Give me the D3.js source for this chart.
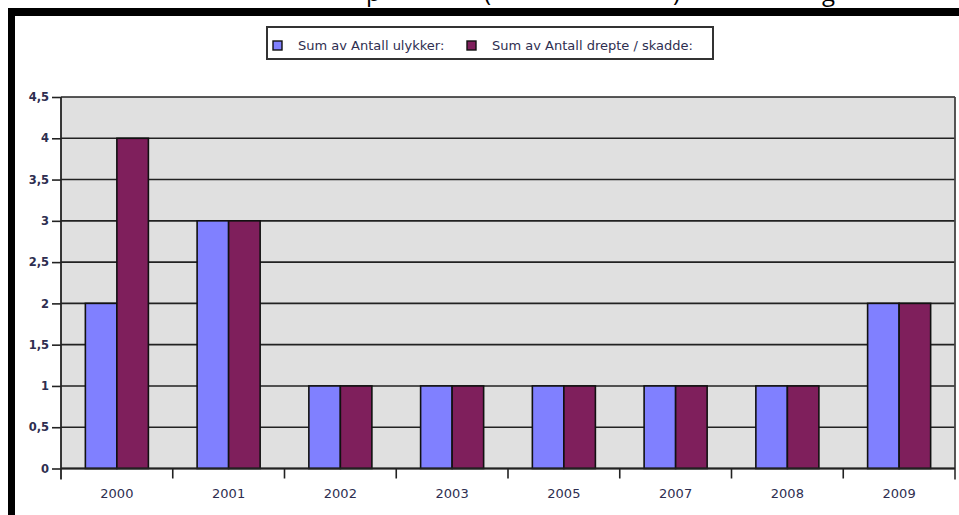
<!DOCTYPE html>
<html><head><meta charset="utf-8">
<script src="https://cdn.jsdelivr.net/npm/d3@7"></script>
<style>html,body{margin:0;padding:0;background:#fff;overflow:hidden}</style>
</head><body>
<svg id="c" width="959" height="515"></svg>
<script>
const categories = ["2000","2001","2002","2003","2005","2007","2008","2009"];
const seriesNames = ["Sum av Antall ulykker:", "Sum av Antall drepte / skadde:"];
const ulykker = [2,3,1,1,1,1,1,2];
const drepteSkadde = [4,3,1,1,1,1,1,2];
const yTicks = [0,0.5,1,1.5,2,2.5,3,3.5,4,4.5];
const colors = ["#8080ff","#7f1f5c"];

(function(){
const svg = d3.select("#c");
const pL = 61, pR = 955, pT = 97, pB = 468.5;
const txt = "#2e2e50";

// clipped title fragments at top edge (title is cut off in the reference)
const frag = [["p",366],["(",484],[")",673],["g",822]];
svg.selectAll("text.frag").data(frag).enter().append("text")
  .attr("x", d=>d[1]).attr("y", 1).attr("font-family","Open Sans")
  .attr("font-size", 24).attr("fill","#000").text(d=>d[0]);

// black frame
svg.append("rect").attr("x",8).attr("y",8).attr("width",951).attr("height",8).attr("fill","#000");
svg.append("rect").attr("x",8).attr("y",8).attr("width",7).attr("height",507).attr("fill","#000");

const x0 = d3.scaleBand().domain(categories).range([pL,pR]).paddingInner(0).paddingOuter(0);
const bw = x0.bandwidth();
const gw = bw*0.564;
const x1 = d3.scaleBand().domain([0,1]).range([(bw-gw)/2,(bw+gw)/2]).padding(0);
const y = d3.scaleLinear().domain([0,4.5]).range([pB,pT]);

svg.append("rect").attr("x",pL).attr("y",pT).attr("width",pR-pL).attr("height",pB-pT)
  .attr("fill","#e0e0e0");

svg.selectAll("line.grid").data(yTicks).enter().append("line")
  .attr("x1",pL).attr("x2",pR).attr("y1",d=>y(d)).attr("y2",d=>y(d))
  .attr("stroke","#222").attr("stroke-width",1.6);

const data = categories.map((c,i)=>({c, v:[ulykker[i], drepteSkadde[i]]}));
const g = svg.selectAll("g.cat").data(data).enter().append("g")
  .attr("transform", d=>`translate(${x0(d.c)},0)`);
g.selectAll("rect").data(d=>d.v.map((v,k)=>({v,k}))).enter().append("rect")
  .attr("x", d=>x1(d.k)).attr("width", x1.bandwidth())
  .attr("y", d=>y(d.v)).attr("height", d=>y(0)-y(d.v))
  .attr("fill", d=>colors[d.k]).attr("stroke","#111").attr("stroke-width",1.6);

svg.append("line").attr("x1",pR).attr("x2",pR).attr("y1",pT).attr("y2",pB+11)
  .attr("stroke","#444").attr("stroke-width",1.8);

const yAxis = d3.axisLeft(y).tickValues(yTicks).tickSize(9).tickPadding(3)
  .tickFormat(d=>String(d).replace(".",","));
const ya = svg.append("g").attr("transform",`translate(${pL},0)`).call(yAxis);
ya.select(".domain").remove();
ya.selectAll(".tick line").attr("stroke","#222").attr("stroke-width",1.6);
ya.selectAll(".tick text").attr("font-family","DejaVu Sans").attr("font-size",11.5)
  .attr("font-weight","bold").attr("fill",txt);
svg.append("line").attr("x1",pL).attr("x2",pL).attr("y1",pT).attr("y2",pB+11)
  .attr("stroke","#222").attr("stroke-width",1.8);

svg.append("line").attr("x1",pL).attr("x2",pR).attr("y1",pB).attr("y2",pB)
  .attr("stroke","#222").attr("stroke-width",1.8);
const xAxis = d3.axisBottom(x0).tickSize(0).tickPadding(20);
const xa = svg.append("g").attr("transform",`translate(0,${pB})`).call(xAxis);
xa.select(".domain").remove();
xa.selectAll(".tick text").attr("font-family","DejaVu Sans").attr("font-size",13)
  .attr("fill",txt);
svg.selectAll("line.xt").data(categories.slice(1)).enter().append("line")
  .attr("x1",d=>x0(d)).attr("x2",d=>x0(d)).attr("y1",pB).attr("y2",pB+10)
  .attr("stroke","#222").attr("stroke-width",1.6);

const lg = svg.append("g");
lg.append("rect").attr("x",267).attr("y",27).attr("width",446).attr("height",32)
  .attr("fill","#fff").attr("stroke","#333").attr("stroke-width",2);
const lx = [273, 467];
seriesNames.forEach((n,k)=>{
  lg.append("rect").attr("x",lx[k]).attr("y",41).attr("width",9).attr("height",9)
    .attr("fill",colors[k]).attr("stroke","#111").attr("stroke-width",1.4);
  lg.append("text").attr("x",lx[k]+25).attr("y",50)
    .attr("font-family","DejaVu Sans")
    .attr("font-size",13).attr("fill",txt).text(n);
});
})();
</script>
</body></html>
